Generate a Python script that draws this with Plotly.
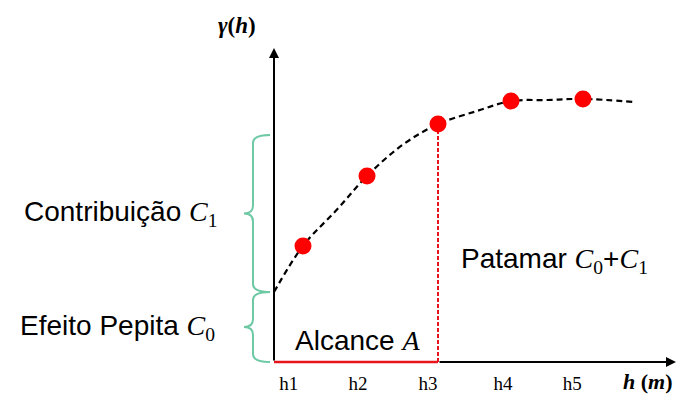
import plotly.graph_objects as go

# ---- data ----
tick_labels = ["h1", "h2", "h3", "h4", "h5"]
tick_pos = [0.21, 1.2, 2.2, 3.27, 4.26]
lag = [0.414, 1.329, 2.343, 3.386, 4.414]
gamma = [0.443, 0.710, 0.908, 0.996, 1.004]
curve_x = [0.0, 0.414, 0.9, 1.329, 1.843, 2.343, 2.9, 3.386, 3.9, 4.414, 5.171]
curve_y = [0.267, 0.443, 0.582, 0.710, 0.830, 0.908, 0.958, 0.996, 1.000, 1.004, 0.992]
nugget = 0.267          # C0
brace_top = 0.866       # upper end of the C1 brace
range_idx = 2           # h3 = alcance

# ---- figure ----
W, H = 694, 395
OFF = 8  # default page body margin
# target page pixel positions of plot area
PL, PR, PT, PB = 260, 684, 40, 370
ML, MR, MT, MB = PL - OFF, W - (PR - OFF), PT - OFF, H - (PB - OFF)
PXX = 70.0   # px per x unit
PXY = 262.0  # px per y unit
x0 = -(274 - PL) / PXX
x1 = (PR - 274) / PXX
y0 = -(PB - 362) / PXY
y1 = (362 - PT) / PXY
plot_w = PR - PL
plot_h = PB - PT

def px2paper(px):
    return (px - PL) / plot_w

def py2paper(py):
    return (PB - py) / plot_h

fig = go.Figure()

# dashed model curve
fig.add_trace(go.Scatter(x=curve_x, y=curve_y, mode="lines",
                         line=dict(color="black", width=2.2, dash="6px,4px", shape="spline", smoothing=1.0),
                         hoverinfo="skip", cliponaxis=False))
# red dashed vertical at range
fig.add_trace(go.Scatter(x=[lag[range_idx], lag[range_idx]], y=[0, gamma[range_idx]], mode="lines",
                         line=dict(color="#e8141c", width=2, dash="4px,2px"),
                         hoverinfo="skip", cliponaxis=False))
# points
fig.add_trace(go.Scatter(x=lag, y=gamma, mode="markers",
                         marker=dict(color="#ff0000", size=17, line=dict(width=0)),
                         hoverinfo="skip", cliponaxis=False))

annotations = []
# axes arrows (x axis: black part starts where the red range segment ends)
annotations.append(dict(x=(676 - 274) / PXX, y=0, ax=lag[range_idx], ay=0, xref="x", yref="y", axref="x", ayref="y",
                        text="", showarrow=True, arrowhead=2, arrowsize=1, arrowwidth=2, arrowcolor="black"))
annotations.append(dict(x=0, y=(362 - 48) / PXY, ax=0, ay=0, xref="x", yref="y", axref="x", ayref="y",
                        text="", showarrow=True, arrowhead=2, arrowsize=1, arrowwidth=2, arrowcolor="black"))
shapes = []
# red solid along x axis up to the range
shapes.append(dict(type="line", xref="x", yref="y", x0=0, x1=lag[range_idx], y0=0, y1=0,
                   line=dict(color="#e8141c", width=2.5), layer="above"))

# braces
def brace(ya, yb):
    xr = px2paper(270)
    xs = px2paper(253)
    xt = px2paper(244)
    d = 8 / PXY
    ym = (ya + yb) / 2
    return (f"M {xr},{ya} Q {xs},{ya} {xs},{ya + d} L {xs},{ym - d} Q {xs},{ym} {xt},{ym} "
            f"Q {xs},{ym} {xs},{ym + d} L {xs},{yb - d} Q {xs},{yb} {xr},{yb}")

green = "#6cc9a4"
shapes.append(dict(type="path", xref="paper", yref="y", path=brace(0, nugget),
                   line=dict(color=green, width=2)))
shapes.append(dict(type="path", xref="paper", yref="y", path=brace(nugget, brace_top),
                   line=dict(color=green, width=2)))

SANS = "Liberation Sans"
SERIF = "Liberation Serif"
def mathC(sub):
    return f'<span style="font-family:{SERIF}"><i>C</i><sub>{sub}</sub></span>'

annotations.append(dict(x=px2paper(219), y=(nugget + brace_top) / 2, xref="paper", yref="y",
                        xanchor="right", yanchor="middle", showarrow=False,
                        text="Contribuição " + mathC(1), font=dict(family=SANS, size=28, color="black")))
annotations.append(dict(x=px2paper(217), y=nugget / 2, xref="paper", yref="y",
                        xanchor="right", yanchor="middle", showarrow=False,
                        text="Efeito Pepita " + mathC(0), font=dict(family=SANS, size=28, color="black")))
annotations.append(dict(x=(293 - 274) / PXX, y=(362 - 340) / PXY, xref="x", yref="y",
                        xanchor="left", yanchor="middle", showarrow=False,
                        text='Alcance <span style="font-family:Liberation Serif"><i>A</i></span>',
                        font=dict(family=SANS, size=28, color="black")))
annotations.append(dict(x=(459 - 274) / PXX, y=(362 - 260) / PXY, xref="x", yref="y",
                        xanchor="left", yanchor="middle", showarrow=False,
                        text="Patamar " + mathC(0) + "+" + mathC(1),
                        font=dict(family=SANS, size=28, color="black")))
annotations.append(dict(x=px2paper(237), y=py2paper(25), xref="paper", yref="paper",
                        xanchor="center", yanchor="middle", showarrow=False,
                        text="<b><i>γ</i>(<i>h</i>)</b>", font=dict(family=SERIF, size=23, color="black")))
annotations.append(dict(x=px2paper(648), y=py2paper(381), xref="paper", yref="paper",
                        xanchor="center", yanchor="middle", showarrow=False,
                        text="<b><i>h</i> (<i>m</i>)</b>", font=dict(family=SERIF, size=22, color="black")))

fig.update_layout(
    width=W, height=H, margin=dict(l=ML, r=MR, t=MT, b=MB, pad=0),
    paper_bgcolor="white", plot_bgcolor="white", showlegend=False,
    xaxis=dict(range=[x0, x1], showgrid=False, zeroline=False, showline=False, ticks="",
               tickvals=tick_pos, ticktext=tick_labels, automargin=False,
               tickfont=dict(family=SERIF, size=19, color="black"), fixedrange=True),
    yaxis=dict(range=[y0, y1], showgrid=False, zeroline=False, showline=False, automargin=False,
               showticklabels=False, ticks="", fixedrange=True),
    shapes=shapes, annotations=annotations,
)

fig.write_html("out.html", config={"displayModeBar": False})
